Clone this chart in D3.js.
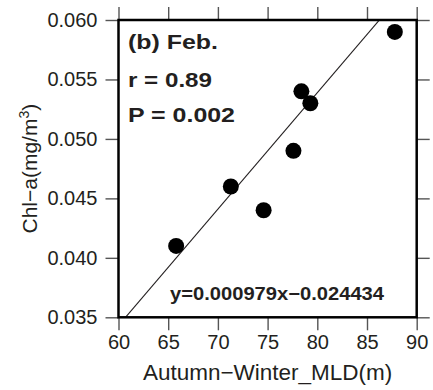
<!DOCTYPE html>
<html>
<head>
<meta charset="utf-8">
<script src="https://cdn.jsdelivr.net/npm/d3@7"></script>
<style>
  html, body { margin: 0; padding: 0; background: #fff; }
  svg { display: block; font-family: "Liberation Sans", Arial, Helvetica, sans-serif; }
</style>
</head>
<body>
<svg id="chart" width="433" height="390"></svg>
<script>
// Autumn-winter mixed layer depth vs. February chlorophyll-a
const mld = [65.8, 71.3, 74.6, 77.6, 78.4, 79.3, 87.8];
const chla = [0.041, 0.046, 0.044, 0.049, 0.054, 0.053, 0.059];
const xTicks = [60, 65, 70, 75, 80, 85, 90];
const yTicks = [0.035, 0.040, 0.045, 0.050, 0.055, 0.060];
const slope = 0.000979, intercept = -0.024434;
const panelLines = ["(b) Feb.", "r = 0.89", "P = 0.002"];
const equation = "y=0.000979x\u22120.024434";

const ink = "#231f20";
const svg = d3.select("#chart");
const m = { left: 118.5, right: 416.7, top: 20, bottom: 317.3 };

const x = d3.scaleLinear().domain([60, 90]).range([m.left, m.right]);
const y = d3.scaleLinear().domain([0.035, 0.060]).range([m.bottom, m.top]);

const tickLen = 13;

function styleAxis(g) {
  g.select(".domain").remove();
  g.selectAll(".tick line").attr("stroke", "#555").attr("stroke-width", 1.4);
  g.selectAll(".tick text").attr("fill", ink).attr("font-size", 20).attr("font-family", "Liberation Sans, Arial, sans-serif");
}

// bottom axis with labels
svg.append("g").attr("transform", `translate(0,${m.bottom})`)
  .call(d3.axisBottom(x).tickValues(xTicks).tickFormat(d3.format("d")).tickSize(tickLen).tickPadding(5))
  .call(styleAxis);
// top axis ticks only
svg.append("g").attr("transform", `translate(0,${m.top})`)
  .call(d3.axisTop(x).tickValues(xTicks).tickFormat("").tickSize(tickLen))
  .call(styleAxis);
// left axis with labels
svg.append("g").attr("transform", `translate(${m.left},0)`)
  .call(d3.axisLeft(y).tickValues(yTicks).tickFormat(d3.format(".3f")).tickSize(tickLen).tickPadding(8))
  .call(styleAxis);
// right axis ticks only
svg.append("g").attr("transform", `translate(${m.right},0)`)
  .call(d3.axisRight(y).tickValues(yTicks).tickFormat("").tickSize(tickLen))
  .call(styleAxis);

// clip for the fit line
svg.append("clipPath").attr("id", "plotClip")
  .append("rect")
  .attr("x", m.left).attr("y", m.top)
  .attr("width", m.right - m.left).attr("height", m.bottom - m.top);

// regression line across the x domain, clipped to the panel
const fit = d3.line().x(d => x(d)).y(d => y(slope * d + intercept));
svg.append("path")
  .datum(x.domain())
  .attr("d", fit)
  .attr("clip-path", "url(#plotClip)")
  .attr("fill", "none")
  .attr("stroke", ink)
  .attr("stroke-width", 1.1);

// data points
svg.append("g").selectAll("circle")
  .data(mld.map((v, i) => [v, chla[i]]))
  .join("circle")
  .attr("cx", d => x(d[0]))
  .attr("cy", d => y(d[1]))
  .attr("r", 8)
  .attr("fill", "#000");

// panel frame
svg.append("rect")
  .attr("x", m.left).attr("y", m.top)
  .attr("width", m.right - m.left).attr("height", m.bottom - m.top)
  .attr("fill", "none").attr("stroke", "#000").attr("stroke-width", 2.5);

// panel annotations (wide bold face)
const baselines = [48.5, 87, 122];
const lineWidths = [90, 84, 107];
svg.append("g").selectAll("text")
  .data(panelLines)
  .join("text")
  .attr("x", 128)
  .attr("y", (d, i) => baselines[i])
  .attr("font-size", 21)
  .attr("font-weight", "bold")
  .attr("fill", ink)
  .attr("textLength", (d, i) => lineWidths[i])
  .attr("lengthAdjust", "spacingAndGlyphs")
  .text(d => d);

svg.append("text")
  .attr("x", 170).attr("y", 300)
  .attr("font-size", 18)
  .attr("font-weight", "bold")
  .attr("fill", ink)
  .attr("textLength", 214)
  .attr("lengthAdjust", "spacingAndGlyphs")
  .text(equation);

// axis titles
svg.append("text")
  .attr("x", (m.left + m.right) / 2).attr("y", 380)
  .attr("text-anchor", "middle")
  .attr("font-size", 22.5)
  .attr("fill", ink)
  .text("Autumn\u2212Winter_MLD(m)");

const yTitle = svg.append("text")
  .attr("transform", `translate(37,${(m.top + m.bottom) / 2}) rotate(-90)`)
  .attr("text-anchor", "middle")
  .attr("font-size", 21)
  .attr("fill", ink);
yTitle.append("tspan").text("Chl\u2212a(mg/m");
yTitle.append("tspan").attr("baseline-shift", "super").attr("font-size", 14).text("3");
yTitle.append("tspan").text(")");
</script>
</body>
</html>
